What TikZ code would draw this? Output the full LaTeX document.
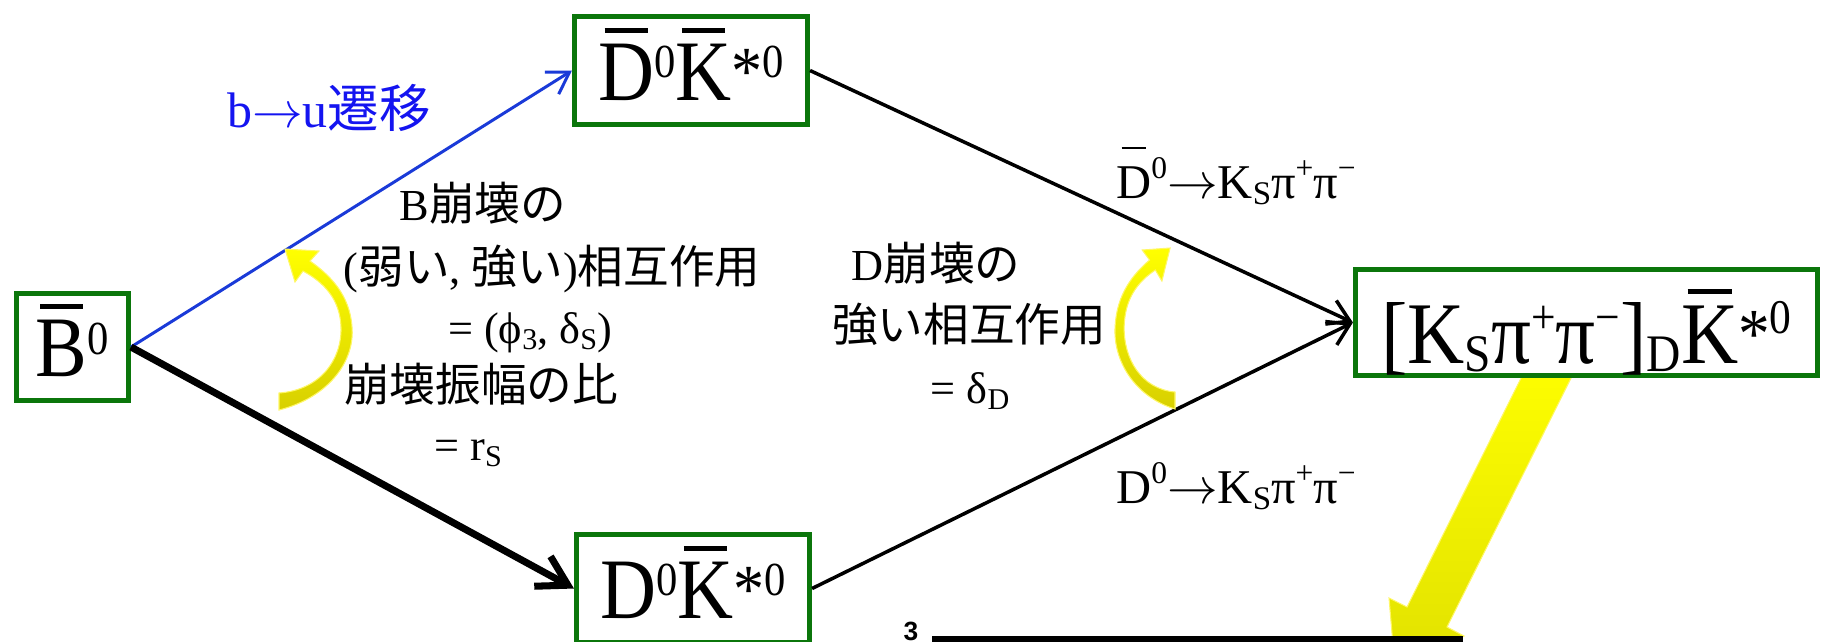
\documentclass[tikz,border=0pt]{standalone}
\usepackage{fontspec}
\setmainfont{Liberation Serif}
\newfontfamily\boxfont{Liberation Serif}[FakeStretch=0.9]
\newfontfamily\jp{Noto Sans CJK JP}[Scale=1.03]
\newfontfamily\sansf{Liberation Sans}
\usepackage{tikz}
\usetikzlibrary{arrows.meta}
\definecolor{boxgreen}{HTML}{0B760B}
\definecolor{lineblue}{HTML}{1A3AD8}
\definecolor{textblue}{HTML}{1414F0}
\definecolor{arcyellow}{HTML}{FFFF00}
\definecolor{arcolive}{HTML}{D8D000}
\newcommand\barx[2][0.78em]{\ooalign{#2\cr\hidewidth\rule[#1]{0.5em}{0.06em}\hidewidth\cr}}
\newcommand\supx[2][0.26em]{\raisebox{#1}{\scalebox{0.55}{#2}}}
\newcommand\subx[2][-0.1em]{\raisebox{#1}{\scalebox{0.6}{#2}}}
\newcommand\starx{\raisebox{0.06em}{\scalebox{0.8}{*}}}
\newcommand\lsup[1]{\raisebox{0.4em}{\scalebox{0.65}{#1}}}
\newcommand\lsub[1]{\raisebox{-0.14em}{\scalebox{0.68}{#1}}}
\tikzset{
  pbox/.style={draw=boxgreen, fill=white, line width=1.4pt, inner sep=0pt,
    minimum width=2.33cm, minimum height=1.08cm, text height=0.68cm, text depth=0.09cm,
    font=\boxfont\fontsize{24.5}{28}\selectfont},
  mixbox/.style={pbox, minimum width=4.62cm, minimum height=1.06cm,
    text height=0.9cm, text depth=0.09cm, font=\boxfont\fontsize{25}{29}\selectfont},
  lbl/.style={inner sep=0pt, anchor=base, font=\fontsize{12.6}{15}\selectfont},
  declbl/.style={lbl, font=\fontsize{13.8}{16}\selectfont},
  flow/.style={-{Straight Barb[length=2.1mm, width=2.6mm]}, line width=1pt},
  bflow/.style={flow, draw=lineblue, line width=0.85pt},
  thflow/.style={-{Straight Barb[length=2.9mm, width=3.4mm]}, line width=2pt},
  yfill/.style={top color=arcyellow, bottom color=arcolive, draw=yellow!60!white, line width=0.3pt},
  curvarrow/.pic={
    \path[yfill] (0,-8) .. controls (41,-11) and (63,-41) .. (62,-74)
      .. controls (61,-101) and (46,-118) .. (24,-130)
      -- (16,-119) -- (6,-152) -- (40,-150) -- (31,-140)
      .. controls (51,-126) and (71,-106) .. (73,-74)
      .. controls (76,-41) and (51,-4) .. (0,9) -- cycle;
  }
}

\begin{document}
\begin{tikzpicture}[x=0.01cm, y=-0.01cm]
\useasboundingbox (0,0) rectangle (1825,641);
\path[yfill, bottom color=arcyellow!88!black] (1535,350) -- (1575,370) -- (1447,627) -- (1464,636)
  -- (1396,680) -- (1389,598) -- (1407,607) -- cycle;
\fill (932,636) rectangle (1463,648);
\node[anchor=north, inner sep=0pt, font=\sansf\bfseries\fontsize{7.5}{9}\selectfont] (cut3) at (911,621) {3};
\node[pbox, minimum width=1.12cm, minimum height=1.07cm] (bbar) at (72.5,347) {\barx{B}\supx{0}};
\node[pbox] (dtop) at (691,70.5) {\barx{D}\supx{0}\barx{K}\starx\supx{0}};
\node[pbox] (dbot) at (693,588.5) {D\supx{0}\barx{K}\starx\supx{0}};
\node[mixbox] (mix) at (1586.5,322.5) {[K\subx{S}π\supx[0.34em]{+}π\supx[0.34em]{−}]\subx{D}\barx{K}\starx\supx[0.34em]{0}};
\draw[bflow] (bbar.east) -- (dtop.west);
\draw[thflow] (bbar.east) -- (dbot.west);
\draw[flow] (dtop.east) -- (mix.west);
\draw[flow] (dbot.east) -- (mix.west);
\node[lbl, text=textblue, font=\fontsize{14.2}{17}\selectfont] (lbu) at (329,127) {b$\rightarrow$u{\jp 遷移}};
\node[lbl] (lbdec) at (483,220) {B{\jp 崩壊の}};
\node[lbl] (lweak) at (552,283) {({\jp 弱い}, {\jp 強い}){\jp 相互作用}};
\node[lbl] (lphi) at (530,343) {= (ϕ\lsub{3}, δ\lsub{S})};
\node[lbl] (lratio) at (481,401) {\jp 崩壊振幅の比};
\node[lbl] (lrs) at (468,460) {= r\lsub{S}};
\node[lbl] (lddec) at (936,280) {D{\jp 崩壊の}};
\node[lbl] (lstrong) at (969,341) {\jp 強い相互作用};
\node[lbl] (ldel) at (970,403) {= δ\lsub{D}};
\node[declbl] (ld0bar) at (1236,198) {\barx[1.0em]{D}\lsup{0}$\rightarrow$K\lsub{S}π\lsup{+}π\lsup{−}};
\node[declbl] (ld0) at (1236,503) {D\lsup{0}$\rightarrow$K\lsub{S}π\lsup{+}π\lsup{−}};
\pic at (279,401) {curvarrow};
\pic[xscale=-0.82] at (1175,400) {curvarrow};
\end{tikzpicture}
\end{document}
